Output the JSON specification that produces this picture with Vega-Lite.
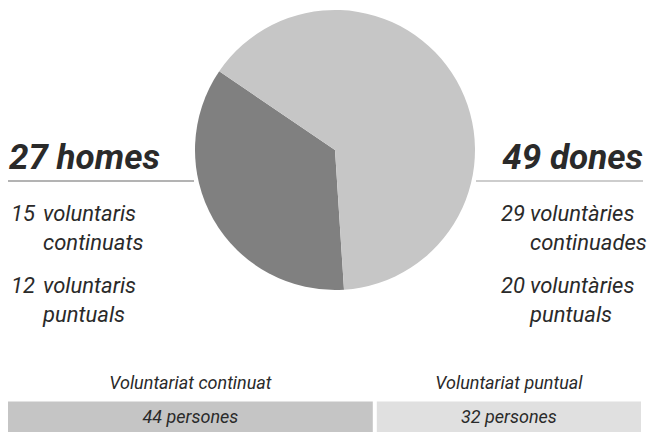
{
  "$schema": "https://vega.github.io/schema/vega-lite/v6.json",
  "padding": {"left": 7, "top": 0, "right": 12, "bottom": 0},
  "background": "white",
  "datasets": {
    "people": [
      {"gender": "homes", "type": "continuat", "n": 15, "label": "voluntaris\ncontinuats"},
      {"gender": "homes", "type": "puntual", "n": 12, "label": "voluntaris\npuntuals"},
      {"gender": "dones", "type": "continuat", "n": 29, "label": "voluntàries\ncontinuades"},
      {"gender": "dones", "type": "puntual", "n": 20, "label": "voluntàries\npuntuals"}
    ]
  },
  "config": {
    "view": {"stroke": null},
    "font": "Roboto",
    "text": {"font": "Roboto", "fontStyle": "italic", "color": "#2a2a2a"}
  },
  "resolve": {"scale": {"color": "independent", "x": "independent", "y": "independent"}},
  "spacing": 41,
  "vconcat": [
    {
      "spacing": 0,
      "resolve": {"scale": {"color": "independent", "x": "independent", "y": "independent", "theta": "independent"}},
      "hconcat": [
        {
          "width": 186,
          "height": 300,
          "data": {"name": "people"},
          "transform": [{"filter": "datum.gender == 'homes'"}],
          "layer": [
            {
              "transform": [
                {"aggregate": [{"op": "sum", "field": "n", "as": "total"}], "groupby": ["gender"]},
                {"calculate": "datum.total + ' ' + datum.gender", "as": "title"}
              ],
              "layer": [
                {
                  "mark": {"type": "rule", "color": "#9a9a9a", "strokeWidth": 1.5},
                  "encoding": {
                    "y": {"datum": "title", "type": "ordinal", "bandPosition": 1,
                      "scale": {"type": "band", "domain": ["title", "continuat", "puntual"], "range": [129, 326], "paddingInner": 0.283, "paddingOuter": 0},
                      "axis": null}
                  }
                },
                {
                  "mark": {"type": "text", "fontSize": 35, "fontWeight": "bold", "align": "left", "baseline": "middle", "dx": -92, "dy": 3},
                  "encoding": {
                    "y": {"datum": "title", "type": "ordinal", "axis": null},
                    "text": {"field": "title"}
                  }
                }
              ]
            },
            {
              "mark": {"type": "text", "fontSize": 22, "align": "left", "baseline": "middle", "dx": -90, "dy": -14},
              "encoding": {
                "y": {"field": "type", "type": "ordinal", "axis": null},
                "text": {"field": "n", "type": "quantitative"}
              }
            },
            {
              "mark": {"type": "text", "fontSize": 22, "align": "left", "baseline": "middle", "lineBreak": "\n", "lineHeight": 29, "dx": -58, "dy": -14},
              "encoding": {
                "y": {"field": "type", "type": "ordinal", "axis": null},
                "text": {"field": "label"}
              }
            }
          ]
        },
        {
          "width": 280,
          "height": 300,
          "data": {"name": "people"},
          "transform": [{"aggregate": [{"op": "sum", "field": "n", "as": "total"}], "groupby": ["gender"]}],
          "mark": {"type": "arc", "stroke": null},
          "encoding": {
            "theta": {"field": "total", "type": "quantitative", "stack": true, "scale": {"range": [5.3093, 11.5925]}},
            "color": {"field": "gender", "type": "nominal", "scale": {"domain": ["dones", "homes"], "range": ["#c6c6c6", "#808080"]}, "legend": null}
          }
        },
        {
          "width": 167,
          "height": 300,
          "data": {"name": "people"},
          "transform": [{"filter": "datum.gender == 'dones'"}],
          "layer": [
            {
              "transform": [
                {"aggregate": [{"op": "sum", "field": "n", "as": "total"}], "groupby": ["gender"]},
                {"calculate": "datum.total + ' ' + datum.gender", "as": "title"}
              ],
              "layer": [
                {
                  "mark": {"type": "rule", "color": "#bdbdbd", "strokeWidth": 1.5},
                  "encoding": {
                    "y": {"datum": "title", "type": "ordinal", "bandPosition": 1,
                      "scale": {"type": "band", "domain": ["title", "continuat", "puntual"], "range": [129, 326], "paddingInner": 0.283, "paddingOuter": 0},
                      "axis": null}
                  }
                },
                {
                  "mark": {"type": "text", "fontSize": 35, "fontWeight": "bold", "align": "right", "baseline": "middle", "dx": 83.5, "dy": 3},
                  "encoding": {
                    "y": {"datum": "title", "type": "ordinal", "axis": null},
                    "text": {"field": "title"}
                  }
                }
              ]
            },
            {
              "mark": {"type": "text", "fontSize": 22, "align": "left", "baseline": "middle", "dx": -58.5, "dy": -14},
              "encoding": {
                "y": {"field": "type", "type": "ordinal", "axis": null},
                "text": {"field": "n", "type": "quantitative"}
              }
            },
            {
              "mark": {"type": "text", "fontSize": 22, "align": "left", "baseline": "middle", "lineBreak": "\n", "lineHeight": 29, "dx": -29.5, "dy": -14},
              "encoding": {
                "y": {"field": "type", "type": "ordinal", "axis": null},
                "text": {"field": "label"}
              }
            }
          ]
        }
      ]
    },
    {
      "width": 637,
      "height": 66,
      "data": {"name": "people"},
      "transform": [
        {"aggregate": [{"op": "sum", "field": "n", "as": "total"}], "groupby": ["type"]},
        {"stack": "total", "groupby": [], "sort": [{"field": "type", "order": "ascending"}], "as": ["x0", "x1"]},
        {"calculate": "(datum.x0 + datum.x1) / 2", "as": "mid"},
        {"calculate": "'Voluntariat ' + datum.type", "as": "header"},
        {"calculate": "datum.total + ' persones'", "as": "lab"}
      ],
      "layer": [
        {
          "mark": {"type": "bar", "x2Offset": -4},
          "encoding": {
            "x": {"field": "x0", "type": "quantitative", "scale": {"domain": [0, 76], "nice": false, "zero": true}, "axis": null},
            "x2": {"field": "x1"},
            "y": {"datum": "bar", "type": "ordinal", "axis": null,
              "scale": {"type": "band", "domain": ["header", "bar"], "paddingInner": 0.03, "paddingOuter": 0}},
            "color": {"field": "type", "type": "nominal", "scale": {"domain": ["continuat", "puntual"], "range": ["#c5c5c5", "#e0e0e0"]}, "legend": null}
          }
        },
        {
          "mark": {"type": "text", "fontSize": 18, "baseline": "middle", "dx": -2},
          "encoding": {
            "x": {"field": "mid", "type": "quantitative"},
            "y": {"datum": "header", "type": "ordinal", "axis": null},
            "text": {"field": "header"}
          }
        },
        {
          "mark": {"type": "text", "fontSize": 18, "baseline": "middle", "dx": -2},
          "encoding": {
            "x": {"field": "mid", "type": "quantitative"},
            "y": {"datum": "bar", "type": "ordinal", "axis": null},
            "text": {"field": "lab"}
          }
        }
      ]
    }
  ]
}
